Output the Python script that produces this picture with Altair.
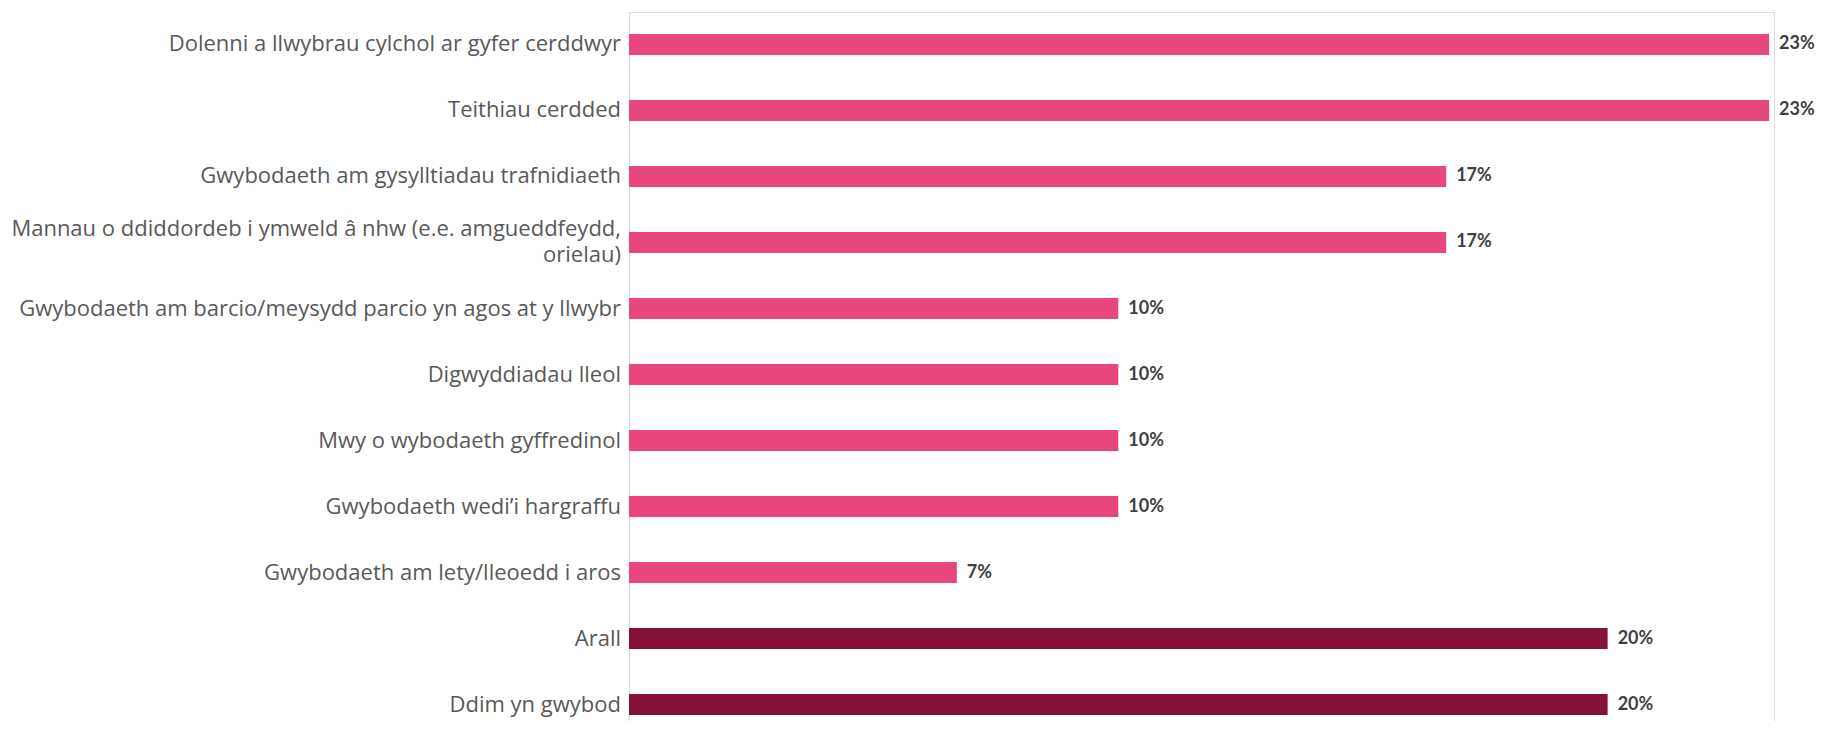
import altair as alt
import pandas as pd

categories = [
    "Dolenni a llwybrau cylchol ar gyfer cerddwyr",
    "Teithiau cerdded",
    "Gwybodaeth am gysylltiadau trafnidiaeth",
    "Mannau o ddiddordeb i ymweld â nhw (e.e. amgueddfeydd, orielau)",
    "Gwybodaeth am barcio/meysydd parcio yn agos at y llwybr",
    "Digwyddiadau lleol",
    "Mwy o wybodaeth gyffredinol",
    "Gwybodaeth wedi’i hargraffu",
    "Gwybodaeth am lety/lleoedd i aros",
    "Arall",
    "Ddim yn gwybod",
]
# category labels as they are wrapped on the chart ("|" = line break)
display_labels = [
    "Dolenni a llwybrau cylchol ar gyfer cerddwyr",
    "Teithiau cerdded",
    "Gwybodaeth am gysylltiadau trafnidiaeth",
    "Mannau o ddiddordeb i ymweld â nhw (e.e. amgueddfeydd,|orielau)",
    "Gwybodaeth am barcio/meysydd parcio yn agos at y llwybr",
    "Digwyddiadau lleol",
    "Mwy o wybodaeth gyffredinol",
    "Gwybodaeth wedi’i hargraffu",
    "Gwybodaeth am lety/lleoedd i aros",
    "Arall",
    "Ddim yn gwybod",
]
values = [23.3, 23.3, 16.7, 16.7, 10.0, 10.0, 10.0, 10.0, 6.7, 20.0, 20.0]
labels = ["23%", "23%", "17%", "17%", "10%", "10%", "10%", "10%", "7%", "20%", "20%"]
groups = ["main"] * 9 + ["other"] * 2

df = pd.DataFrame({"cat": categories, "disp": display_labels, "value": values, "label": labels, "group": groups})

y_enc = alt.Y(
    "cat:N",
    sort=categories,
    title=None,
    scale=alt.Scale(paddingInner=0.682, paddingOuter=0.212, align=0.786),
    axis=alt.Axis(
        ticks=False,
        labels=False,
        domain=True,
        domainColor="#d9d9d9",
        domainWidth=1,
        grid=False,
    ),
)
x_enc = alt.X("value:Q", title=None, axis=None, scale=alt.Scale(domain=[0, 23.4], nice=False, zero=True))

base = alt.Chart(df)

bars = base.mark_bar().encode(
    x=x_enc,
    y=y_enc,
    color=alt.Color("group:N", scale=alt.Scale(domain=["main", "other"], range=["#E8477B", "#851137"]), legend=None),
)

value_text = base.mark_text(
    align="left", baseline="middle", dx=10, font="Lato", fontSize=18, fontWeight="bold", color="#404040"
).encode(
    x=x_enc,
    y=alt.Y("cat:N", sort=categories),
    text="label:N",
)

label_base = base.transform_calculate(
    lines="split(datum.disp, '|')",
    nlines="length(split(datum.disp, '|'))",
)
label_style = dict(align="right", baseline="middle", font="Open Sans", fontSize=22, color="#595959", lineHeight=26)

single_labels = label_base.transform_filter("datum.nlines == 1").mark_text(**label_style).encode(
    x=alt.value(-8),
    y=alt.Y("cat:N", sort=categories),
    text="lines:N",
)
multi_labels = label_base.transform_filter("datum.nlines == 2").mark_text(dy=-13, **label_style).encode(
    x=alt.value(-8),
    y=alt.Y("cat:N", sort=categories),
    text="lines:N",
)

chart = (
    alt.layer(bars, value_text, single_labels, multi_labels)
    .properties(
        width=1145,
        height=709,
        autosize=alt.AutoSizeParams(type="none"),
        padding={"left": 621, "top": 4, "right": 44, "bottom": 0},
    )
    .configure_view(stroke=None)
    .configure(background="white")
)

chart.save("out.html", embed_options={"renderer": "svg", "actions": False})
